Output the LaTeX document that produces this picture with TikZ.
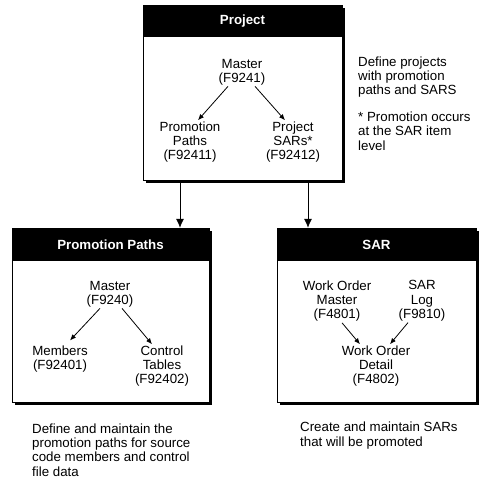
\documentclass[tikz,border=0pt]{standalone}
\usepackage{fontspec}
\setmainfont{Liberation Sans}
\usetikzlibrary{arrows.meta,shadows}

\tikzset{
  panel/.style={draw, fill=white, line width=0.8pt, inner sep=0pt,
    drop shadow={shadow xshift=3pt, shadow yshift=-3pt, fill=black, opacity=1}},
  panelhead/.style={fill=black, text=white, inner sep=0pt, font=\bfseries\fontsize{13.3}{14.4}\selectfont},
  tbl/.style={align=center, inner sep=1pt, font=\fontsize{13.3}{14.4}\selectfont},
  note/.style={align=left, anchor=west, inner sep=0pt, font=\fontsize{13.3}{14.4}\selectfont},
  arr/.style={-{Latex[length=6pt,width=5pt]}, line width=0.8pt},
  bigarr/.style={-{Latex[length=9pt,width=8pt]}, line width=0.8pt}
}

\begin{document}
\begin{tikzpicture}[x=1pt,y=-1pt]
\useasboundingbox (0,0) rectangle (493,482);

% project
\node [panel, minimum width=199pt, minimum height=175pt] (proj) at (242.5,92.5) {};
\node [panelhead, minimum width=199pt, minimum height=32pt] (projhead) at (242.5,21) {Project};
\node [tbl] (pmaster) at (242,72) {Master\\(F9241)};
\node [tbl] (ppaths) at (190,142) {Promotion\\Paths\\(F92411)};
\node [tbl] (psars) at (293,142) {Project\\SARs*\\(F92412)};
\draw [arr] ([xshift=-14pt]pmaster.south) -- ([xshift=8pt]ppaths.north);
\draw [arr] ([xshift=13pt]pmaster.south) -- ([xshift=-8pt]psars.north);
\node [note] (projnote) at (358,77) {Define projects\\with promotion\\paths and SARS};
\node [note] (sarnote) at (358,131) {* Promotion occurs\\at the SAR item\\level};

% promotion paths
\node [panel, minimum width=197pt, minimum height=174pt] (path) at (110.5,315) {};
\node [panelhead, minimum width=197pt, minimum height=33pt] (pathhead) at (110.5,244.5) {Promotion Paths};
\node [tbl] (mmaster) at (110,294) {Master\\(F9240)};
\node [tbl] (members) at (60,359) {Members\\(F92401)};
\node [tbl] (ctables) at (162,366) {Control\\Tables\\(F92402)};
\draw [arr] ([xshift=-10pt]mmaster.south) -- ([xshift=10pt,yshift=4pt]members.north);
\draw [arr] ([xshift=12pt]mmaster.south) -- ([xshift=-10pt]ctables.north);
\node [note] (pathnote) at (32,450) {Define and maintain the\\promotion paths for source\\code members and control\\file data};

% sar
\node [panel, minimum width=199pt, minimum height=174pt] (sar) at (376.5,315) {};
\node [panelhead, minimum width=199pt, minimum height=33pt] (sarhead) at (376.5,244.5) {SAR};
\node [tbl] (wom) at (337,301) {Work Order\\Master\\(F4801)};
\node [tbl] (slog) at (422,301) {SAR\\Log\\(F9810)};
\node [tbl] (wod) at (376,366) {Work Order\\Detail\\(F4802)};
\draw [arr] ([xshift=5pt]wom.south) -- ([xshift=-16pt]wod.north);
\draw [arr] ([xshift=-14pt]slog.south) -- ([xshift=14pt]wod.north);
\node [note] (sarnote2) at (300,435.5) {Create and maintain SARs\\that will be promoted};

% links
\coordinate (linkL) at (180,183);
\coordinate (linkR) at (308,183);
\draw [bigarr] (linkL) -- (linkL |- pathhead.north);
\draw [bigarr] (linkR) -- (linkR |- sarhead.north);
\end{tikzpicture}
\end{document}
